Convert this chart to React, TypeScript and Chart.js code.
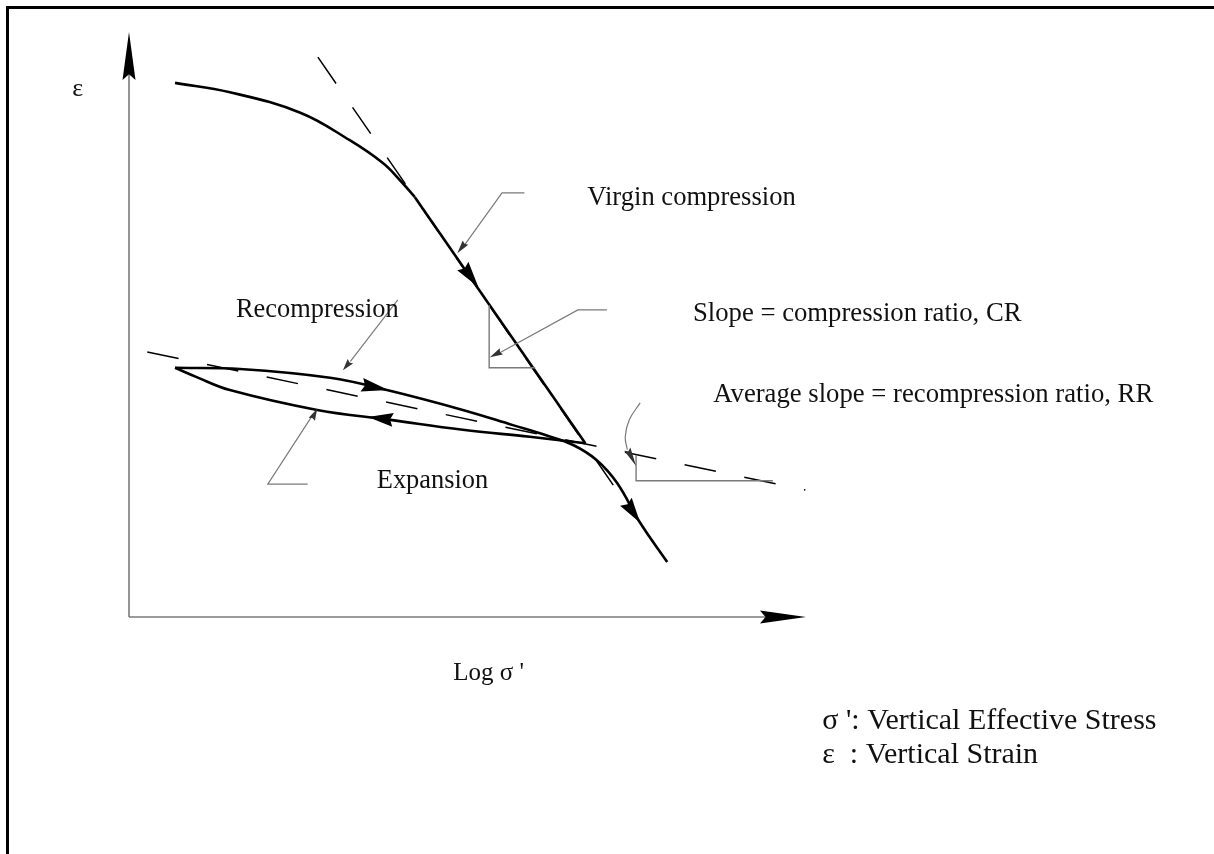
import React, { useEffect, useRef } from "react";
import { Chart, registerables } from "chart.js";
Chart.register(...registerables);

// Schematic data, in axis units (x: log σ' from 0 to 10 along the drawn axis, y: ε from 0 to 10)
const virginCurveX = [0.68, 1.49, 2.53, 3.26, 3.75, 4.0, 4.22];
const virginCurveY = [9.13, 8.97, 8.62, 8.15, 7.76, 7.47, 7.18];
const virginLineX = [4.22, 6.74];
const virginLineY = [7.18, 2.97];
const crTangentX = [2.79, 7.18];
const crTangentY = [9.57, 2.21];
const expansionX = [6.74, 5.92, 4.93, 3.86, 2.78, 1.49, 1.0, 0.68];
const expansionY = [2.97, 3.08, 3.2, 3.37, 3.54, 3.88, 4.1, 4.26];
const reloadX = [0.68, 1.64, 2.97, 3.81, 4.93, 5.67, 6.15, 6.56, 6.91, 7.21, 7.55, 7.95];
const reloadY = [4.26, 4.24, 4.09, 3.88, 3.54, 3.28, 3.11, 2.94, 2.68, 2.29, 1.61, 0.94];
const rrLineX = [0.27, 9.99];
const rrLineY = [4.53, 2.17];
const xAxisX = [0, 9.4];
const xAxisY = [0, 0];
const yAxisX = [0, 0];
const yAxisY = [0, 9.3];
const crTriangleX = [5.32, 5.32, 6.0];
const crTriangleY = [5.33, 4.26, 4.26];
const rrTriangleX = [7.49, 7.49, 9.51];
const rrTriangleY = [2.77, 2.33, 2.33];

// Leaders (annotation callouts), axis units
const virginLeaderX = [5.84, 5.51, 4.92];
const virginLeaderY = [7.25, 7.25, 6.3];
const crLeaderX = [7.06, 6.63, 5.45];
const crLeaderY = [5.25, 5.25, 4.5];
const recompLeaderX = [3.97, 3.27];
const recompLeaderY = [5.42, 4.37];
const expLeaderX = [2.64, 2.05, 2.7];
const expLeaderY = [2.27, 2.27, 3.43];
const rrLeaderX = [7.55, 7.39, 7.33, 7.36];
const rrLeaderY = [3.66, 3.37, 3.08, 2.86];

// Arrowheads: [tipX, tipY, baseX, baseY]
const bigArrows = [
  [3.83, 3.88, 3.44, 3.97], // recompression
  [3.53, 3.42, 3.9, 3.37], // expansion
  [5.16, 5.64, 4.93, 6.0], // virgin
  [7.55, 1.61, 7.34, 1.97], // reload
];
const axisArrows = [
  [0, 10, 0, 9.18],
  [10, 0, 9.32, 0],
];
const smallArrows = [
  [4.85, 6.22, 4.97, 6.4],
  [5.33, 4.44, 5.5, 4.54],
  [3.16, 4.22, 3.27, 4.37],
  [2.78, 3.56, 2.7, 3.38],
  [7.49, 2.58, 7.36, 2.87],
];

const labelTexts = [
  "ε",
  "Virgin compression",
  "Recompression",
  "Slope = compression ratio, CR",
  "Average slope = recompression ratio, RR",
  "Expansion",
  "Log σ '",
  "σ ': Vertical Effective Stress",
  "ε  : Vertical Strain",
];
const labelX = [-0.84, 6.77, 1.58, 8.33, 8.63, 3.66, 4.79, 10.24, 10.24];
const labelY = [8.91, 7.04, 5.13, 5.06, 3.68, 2.2, -1.07, -1.92, -2.5];
const labelSizes = [26, 26.6, 26.4, 26.7, 26.7, 26.4, 25, 30, 30];

const pts = (xs: number[], ys: number[]) => xs.map((x, i) => ({ x, y: ys[i] }));

export default function App() {
  const ref = useRef<HTMLCanvasElement | null>(null);
  useEffect(() => {
    if (!ref.current) return;
    const line = (data: any, color: string, width: number, extra: any = {}) => ({
      data,
      showLine: true,
      borderColor: color,
      borderWidth: width,
      pointRadius: 0,
      fill: false,
      clip: false,
      tension: 0,
      ...extra,
    });
    const drawArrow = (ctx: CanvasRenderingContext2D, xs: any, ys: any, a: number[], half: number, color: string) => {
      const tx = xs.getPixelForValue(a[0]);
      const ty = ys.getPixelForValue(a[1]);
      const bx = xs.getPixelForValue(a[2]);
      const by = ys.getPixelForValue(a[3]);
      const dx = tx - bx;
      const dy = ty - by;
      const len = Math.hypot(dx, dy) || 1;
      const nx = -dy / len;
      const ny = dx / len;
      ctx.beginPath();
      ctx.moveTo(tx, ty);
      ctx.lineTo(bx + nx * half, by + ny * half);
      ctx.lineTo(bx + dx * 0.12, by + dy * 0.12);
      ctx.lineTo(bx - nx * half, by - ny * half);
      ctx.closePath();
      ctx.fillStyle = color;
      ctx.fill();
    };
    const overlay = {
      id: "overlay",
      afterDatasetsDraw(chart: any) {
        const ctx = chart.ctx as CanvasRenderingContext2D;
        const xs = chart.scales.x;
        const ys = chart.scales.y;
        ctx.save();
        bigArrows.forEach((a) => drawArrow(ctx, xs, ys, a, 7, "#000"));
        axisArrows.forEach((a) => drawArrow(ctx, xs, ys, a, 6.5, "#000"));
        smallArrows.forEach((a) => drawArrow(ctx, xs, ys, a, 3.5, "#333"));
        ctx.fillStyle = "#111";
        ctx.textBaseline = "alphabetic";
        ctx.textAlign = "left";
        labelTexts.forEach((t, i) => {
          ctx.font = `${labelSizes[i]}px "Liberation Serif", "Times New Roman", serif`;
          ctx.fillText(t, xs.getPixelForValue(labelX[i]), ys.getPixelForValue(labelY[i]));
        });
        ctx.restore();
      },
    };
    const gray = "#7a7a7a";
    const chart = new Chart(ref.current, {
      type: "scatter",
      data: {
        datasets: [
          line(pts(xAxisX, xAxisY), gray, 1.6),
          line(pts(yAxisX, yAxisY), gray, 1.6),
          line(pts(crTriangleX, crTriangleY), gray, 1.4),
          line(pts(rrTriangleX, rrTriangleY), gray, 1.4),
          line(pts(virginLeaderX, virginLeaderY), gray, 1.2),
          line(pts(crLeaderX, crLeaderY), gray, 1.2),
          line(pts(recompLeaderX, recompLeaderY), gray, 1.2),
          line(pts(expLeaderX, expLeaderY), gray, 1.2),
          line(pts(rrLeaderX, rrLeaderY), gray, 1.2, { tension: 0.4 }),
          line(pts(crTangentX, crTangentY), "#000", 1.5, { borderDash: [32, 29] }),
          line(pts(rrLineX, rrLineY), "#000", 1.5, { borderDash: [32, 29] }),
          line(pts(virginCurveX, virginCurveY), "#000", 2.6, { tension: 0.4 }),
          line(pts(virginLineX, virginLineY), "#000", 2.6),
          line(pts(expansionX, expansionY), "#000", 2.6, { tension: 0.4 }),
          line(pts(reloadX, reloadY), "#000", 2.6, { tension: 0.4 }),
        ],
      },
      options: {
        animation: false,
        responsive: true,
        maintainAspectRatio: false,
        layout: { padding: 0 },
        plugins: { legend: { display: false }, tooltip: { enabled: false }, title: { display: false } },
        scales: {
          x: { type: "linear", display: false, min: -129 / 67.7, max: (1214 - 129) / 67.7 },
          y: { type: "linear", display: false, min: (617 - 854) / 58.5, max: 617 / 58.5 },
        },
      },
      plugins: [overlay],
    });
    return () => chart.destroy();
  }, []);
  return (
    <div style={{ position: "fixed", left: 0, top: 0, width: 1214, height: 854, background: "#fff" }}>
      <div
        style={{
          position: "absolute",
          left: 6,
          top: 6,
          right: 0,
          bottom: 0,
          borderTop: "3px solid #000",
          borderLeft: "3px solid #000",
        }}
      />
      <canvas ref={ref} />
    </div>
  );
}
